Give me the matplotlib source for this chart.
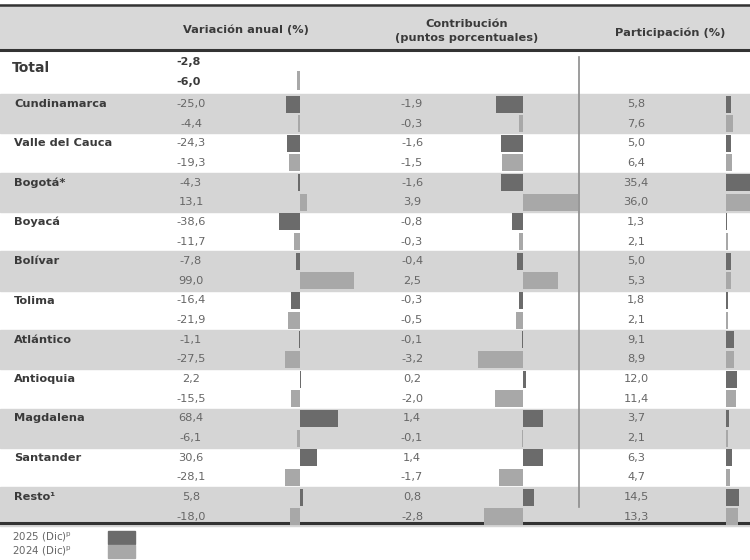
import matplotlib
matplotlib.use("Agg")
import matplotlib.pyplot as plt

plt.rcParams["font.family"] = ["DejaVu Sans"]
plt.rcParams["mathtext.default"] = "regular"

# data (2025 dic / 2024 dic)
regions = ["Cundinamarca", "Valle del Cauca", "Bogotá*", "Boyacá", "Bolívar",
           "Tolima", "Atlántico", "Antioquia", "Magdalena", "Santander", "Resto¹"]
var_2025 = [-25.0, -24.3, -4.3, -38.6, -7.8, -16.4, -1.1, 2.2, 68.4, 30.6, 5.8]
var_2024 = [-4.4, -19.3, 13.1, -11.7, 99.0, -21.9, -27.5, -15.5, -6.1, -28.1, -18.0]
con_2025 = [-1.9, -1.6, -1.6, -0.8, -0.4, -0.3, -0.1, 0.2, 1.4, 1.4, 0.8]
con_2024 = [-0.3, -1.5, 3.9, -0.3, 2.5, -0.5, -3.2, -2.0, -0.1, -1.7, -2.8]
par_2025 = [5.8, 5.0, 35.4, 1.3, 5.0, 1.8, 9.1, 12.0, 3.7, 6.3, 14.5]
par_2024 = [7.6, 6.4, 36.0, 2.1, 5.3, 2.1, 8.9, 11.4, 2.1, 4.7, 13.3]
total_var = [-2.8, -6.0]
legend_labels = ["2025 (Dic)$^{p}$", "2024 (Dic)$^{p}$"]

DARK = "#6b6b6b"
LIGHT = "#a8a8a8"
BAND = "#d5d5d5"
TXT = "#3a3a3a"
VAL = "#666666"

W, H = 750, 560
PITCH = 19.65
BAR_H = 17


def row_y(i):
    return 104 + PITCH * i


def fmt(v):
    return f"{v:.1f}".replace(".", ",")


fig = plt.figure(figsize=(7.5, 5.6), dpi=100)
bg = fig.add_axes([0, 0, 1, 1])
bg.set_xlim(0, W)
bg.set_ylim(H, 0)
bg.axis("off")

# header
bg.axhspan(5, 50, color="#d8d8d8", zorder=0)
bg.axhline(5, color="#333333", lw=1.8)
bg.axhline(50, color="#333333", lw=2.2)
bg.text(246, 30, "Variación anual (%)", ha="center", va="center",
        fontsize=8.2, fontweight="bold", color=TXT)
bg.text(467, 31, "Contribución\n(puntos porcentuales)", ha="center", va="center",
        fontsize=8.2, fontweight="bold", color=TXT, linespacing=1.45)
bg.text(670, 33, "Participación (%)", ha="center", va="center",
        fontsize=8.2, fontweight="bold", color=TXT)

# bands + labels
for g, name in enumerate(regions):
    y0, y1 = row_y(2 * g), row_y(2 * g + 1)
    if g % 2 == 0:
        bg.axhspan(y0 - PITCH / 2, y1 + PITCH / 2, color=BAND, zorder=0)
    bg.text(14, y0, name, ha="left", va="center", fontsize=8.2,
            fontweight="bold", color=TXT)
    for y, a, b, c in [(y0, var_2025[g], con_2025[g], par_2025[g]),
                       (y1, var_2024[g], con_2024[g], par_2024[g])]:
        bg.text(191, y, fmt(a), ha="center", va="center", fontsize=8.2, color=VAL)
        bg.text(412, y, fmt(b), ha="center", va="center", fontsize=8.2, color=VAL)
        bg.text(636, y, fmt(c), ha="center", va="center", fontsize=8.2, color=VAL)

total_y = [62, 82]
bg.text(12, 68, "Total", ha="left", va="center", fontsize=10,
        fontweight="bold", color=TXT)
for y, v in zip(total_y, total_var):
    bg.text(189, y, fmt(v), ha="center", va="center", fontsize=8,
            fontweight="bold", color=TXT)

bg.axhline(523, color="#333333", lw=2.2)
bg.plot([579, 579], [57, 507], color="#8c8c8c", lw=1.2)

# legend
for k, (lab, col) in enumerate(zip(legend_labels, [DARK, LIGHT])):
    y = 537 + 14 * k
    bg.text(12, y, lab, ha="left", va="center", fontsize=7.4, color=VAL)
    bg.add_patch(plt.Rectangle((108, y - 6.5), 27, 13, color=col))


def bar_axis(x0, x1, zero, scale):
    ax = fig.add_axes([x0 / W, 0, (x1 - x0) / W, 1])
    ax.set_xlim((x0 - zero) / scale, (x1 - zero) / scale)
    ax.set_ylim(H, 0)
    ax.axis("off")
    ax.patch.set_visible(False)
    return ax


ys25 = [row_y(2 * g) for g in range(len(regions))]
ys24 = [row_y(2 * g + 1) for g in range(len(regions))]

ax1 = bar_axis(250, 380, 300, 0.55)
ax1.barh(ys25, var_2025, height=BAR_H, color=DARK)
ax1.barh(ys24, var_2024, height=BAR_H, color=LIGHT)
ax1.barh([total_y[1] - 2], [total_var[1]], height=BAR_H + 2, color=LIGHT)

ax2 = bar_axis(460, 578, 523, 14)
ax2.barh(ys25, con_2025, height=BAR_H, color=DARK)
ax2.barh(ys24, con_2024, height=BAR_H, color=LIGHT)

ax3 = bar_axis(700, 750, 726, 0.9)
ax3.barh(ys25, par_2025, height=BAR_H, color=DARK)
ax3.barh(ys24, par_2024, height=BAR_H, color=LIGHT)

fig.savefig("out.png", dpi=100)
